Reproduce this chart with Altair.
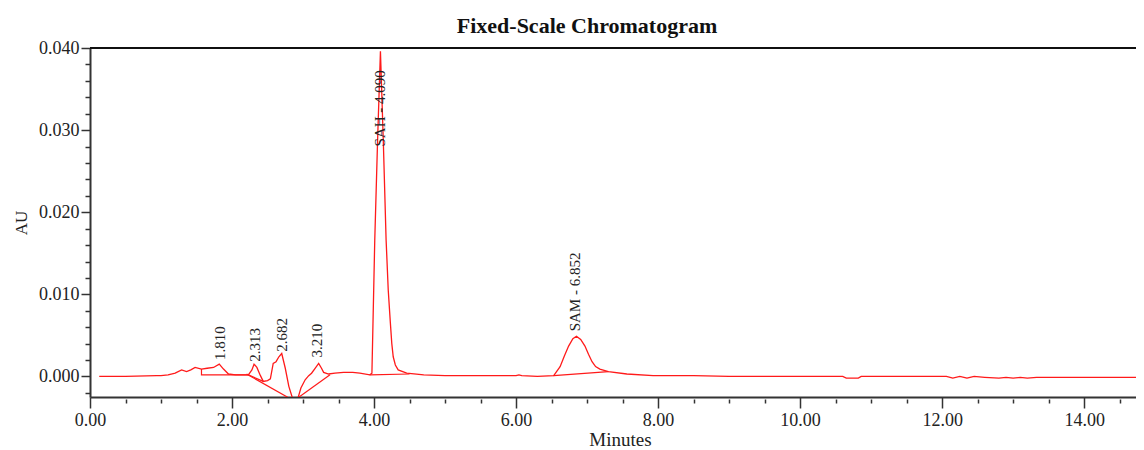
import altair as alt
import pandas as pd

FONT = "Liberation Serif"

# ---- chromatogram trace (minutes, AU) ----
trace_t = [0.13, 0.50, 0.94, 1.00, 1.10, 1.20, 1.29, 1.36, 1.42, 1.48, 1.57, 1.65, 1.74, 1.82,
           1.88, 1.95, 2.05, 2.23, 2.28, 2.31, 2.35, 2.40, 2.44, 2.50, 2.54, 2.58, 2.62, 2.66,
           2.70, 2.75, 2.80, 2.85, 2.885, 2.93, 2.97, 3.03, 3.08, 3.12, 3.17, 3.22, 3.26, 3.29,
           3.36, 3.45, 3.57, 3.70, 3.80, 3.94, 3.97, 4.01, 4.05, 4.09, 4.13, 4.17, 4.20, 4.23,
           4.25, 4.27, 4.30, 4.34, 4.46, 4.70, 5.00, 5.50, 6.00, 6.04, 6.08, 6.30, 6.53, 6.62,
           6.68, 6.74, 6.80, 6.85, 6.91, 6.97, 7.02, 7.07, 7.12, 7.18, 7.30, 7.56, 7.93, 8.50,
           9.00, 10.00, 10.60, 10.65, 10.82, 10.86, 12.06, 12.15, 12.25, 12.35, 12.45, 12.60,
           12.80, 12.90, 13.00, 13.10, 13.20, 13.33, 14.73]
trace_v = [0.0000, 0.0000, 0.0001, 0.0001, 0.0002, 0.0004, 0.0008, 0.0006, 0.0008, 0.0011,
           0.0009, 0.0010, 0.0011, 0.0015, 0.0009, 0.0003, 0.0002, 0.0002, 0.0008, 0.0015,
           0.0011, 0.0001, -0.0006, -0.0005, -0.0003, 0.0016, 0.0018, 0.0024, 0.0028, 0.0010,
           -0.0012, -0.0026, -0.0040, -0.0026, -0.0014, -0.0004, 0.0001, 0.0004, 0.0010, 0.0016,
           0.0010, 0.0005, 0.0003, 0.0004, 0.0005, 0.0005, 0.0004, 0.0002, 0.0004, 0.0166,
           0.0288, 0.0396, 0.0288, 0.0166, 0.0105, 0.0065, 0.0040, 0.0024, 0.0014, 0.0008,
           0.0004, 0.0002, 0.0001, 0.0001, 0.0001, 0.0002, 0.0001, 0.0000, 0.0001, 0.0012,
           0.0025, 0.0037, 0.0046, 0.0049, 0.0045, 0.0037, 0.0027, 0.0018, 0.0012, 0.0009,
           0.0006, 0.0003, 0.0001, 0.0001, 0.0000, 0.0000, 0.0000, -0.0002, -0.0002, 0.0000,
           0.0000, -0.0002, 0.0000, -0.0002, 0.0000, -0.0001, -0.0002, -0.0001, -0.0002,
           -0.0001, -0.0002, -0.0001, -0.0001]

# ---- integration baselines drawn under the peaks ----
seg_id = [1, 1, 1, 2, 2, 3, 3, 4, 4, 5, 5, 6, 6]
seg_t = [1.57, 1.57, 2.23, 2.23, 2.44, 2.205, 2.90, 3.38, 2.88, 3.94, 4.50, 6.53, 7.30]
seg_v = [0.0009, 0.0002, 0.0002, 0.0002, -0.0006, 0.0003, -0.0031, 0.0002, -0.0029,
         0.0002, 0.0003, 0.0001, 0.0006]

# ---- peak labels ----
label_text = ["1.810", "2.313", "2.682", "3.210", "SAH - 4.090", "SAM - 6.852"]
label_t = [1.83, 2.32, 2.70, 3.19, 4.085, 6.83]
label_v = [0.0020, 0.0018, 0.0030, 0.0023, 0.0280, 0.0055]

# ---- axis ticks ----
x_major = [0, 2, 4, 6, 8, 10, 12, 14]
x_minor = [0.5, 1.0, 1.5, 2.5, 3.0, 3.5, 4.5, 5.0, 5.5, 6.5, 7.0, 7.5, 8.5, 9.0, 9.5,
           10.5, 11.0, 11.5, 12.5, 13.0, 13.5, 14.5]
y_major = [0.0, 0.01, 0.02, 0.03, 0.04]
y_minor = [-0.002, 0.002, 0.004, 0.006, 0.008, 0.012, 0.014, 0.016, 0.018, 0.022, 0.024,
           0.026, 0.028, 0.032, 0.034, 0.036, 0.038]

X_MAX = 14.73
Y_MIN, Y_MAX = -0.0025, 0.040

trace_df = pd.DataFrame({"t": trace_t, "v": trace_v})
seg_df = pd.DataFrame({"seg": seg_id, "t": seg_t, "v": seg_v,
                       "o": list(range(len(seg_id)))})
label_df = pd.DataFrame({"label": label_text, "t": label_t, "v": label_v})

xscale = alt.Scale(domain=[0, X_MAX], nice=False, zero=False)
yscale = alt.Scale(domain=[Y_MIN, Y_MAX], nice=False, zero=False)

RED = "#ff1a1a"
AX = "#333333"

x_axis = alt.Axis(values=x_major, format=".2f", title="Minutes", orient="bottom",
                  grid=False, tickSize=11, tickWidth=1.5, tickColor=AX, labelFlush=False,
                  domainColor=AX, domainWidth=2, labelFont=FONT, labelFontSize=18,
                  labelColor="#222222", labelPadding=3, titleFont=FONT,
                  titleFontSize=19, titleFontWeight="normal", titleColor="#222222",
                  titleX=530, titleY=48, titleBaseline="alphabetic")
y_axis = alt.Axis(values=y_major, format=".3f", title="AU", orient="left", grid=False,
                  tickSize=9, tickWidth=1.5, tickColor=AX, domainColor=AX, domainWidth=2,
                  labelFlush=False, labelFont=FONT, labelFontSize=18, labelColor="#222222",
                  labelPadding=2, titleFont=FONT, titleFontSize=17, titleFontWeight="normal",
                  titleColor="#222222", titleX=-69, titleY=174.5, titleBaseline="middle",
                  titleAngle=270)

x_minor_axis = alt.Axis(values=x_minor, labels=False, domain=False, grid=False, title=None,
                        orient="bottom", tickSize=4, tickWidth=1.5, tickColor=AX, offset=2)
y_minor_axis = alt.Axis(values=y_minor, labels=False, domain=False, grid=False, title=None,
                        orient="left", tickSize=5, tickWidth=1.5, tickColor=AX)

trace = alt.Chart(trace_df).mark_line(color=RED, strokeWidth=1.3, clip=True).encode(
    x=alt.X("t:Q", scale=xscale, axis=x_axis),
    y=alt.Y("v:Q", scale=yscale, axis=y_axis),
)

segs = alt.Chart(seg_df).mark_line(color=RED, strokeWidth=1.2, clip=True).encode(
    x=alt.X("t:Q", scale=xscale, axis=None),
    y=alt.Y("v:Q", scale=yscale, axis=None),
    detail="seg:N",
    order="o:Q",
)

labels = alt.Chart(label_df).mark_text(angle=270, align="left", baseline="middle",
                                       font=FONT, fontSize=15, color="#222222").encode(
    x=alt.X("t:Q", scale=xscale, axis=None),
    y=alt.Y("v:Q", scale=yscale, axis=None),
    text="label:N",
)

top_rule = alt.Chart(trace_df).mark_rule(color="#111111", strokeWidth=1.5).encode(
    x=alt.XDatum(0, scale=xscale, axis=x_minor_axis),
    x2=alt.X2Datum(X_MAX),
    y=alt.YDatum(Y_MAX, scale=yscale, axis=y_minor_axis),
)

chart = alt.layer(trace, segs, labels, top_rule).resolve_axis(
    x="independent", y="independent"
).properties(
    width=1046,
    height=349,
    padding={"left": 82, "top": 40, "right": 0, "bottom": 53},
    autosize=alt.AutoSizeParams(type="none"),
    title=alt.TitleParams("Fixed-Scale Chromatogram", font=FONT, fontSize=22,
                          fontWeight="bold", color="#111111", anchor="middle",
                          dx=-26, offset=1),
).configure_view(stroke=None)

chart.save("out.html", embed_options={"renderer": "svg", "actions": False})
